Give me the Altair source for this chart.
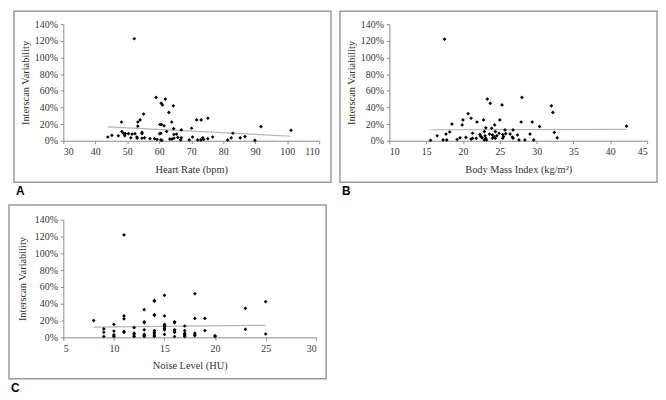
import altair as alt
import pandas as pd

# ---------------- data ----------------
# Panel A: Heart rate (bpm) vs interscan variability (%)
hr_x = [52.2, 59.0, 61.9, 60.6, 61.0, 64.4, 55.1, 63.0, 54.0, 53.3, 48.2, 71.7, 73.1, 75.2,
        63.9, 53.3, 60.2, 60.7, 61.5, 70.1, 64.5, 66.9, 62.3, 48.3, 48.8, 49.4, 50.4, 51.5,
        52.4, 54.6, 54.6, 60.1, 60.5, 64.6, 65.4, 83.0, 91.8, 101.2, 45.2, 47.2, 43.9, 49.2,
        51.1, 53.0, 53.1, 54.6, 55.4, 57.1, 58.5, 59.3, 60.5, 60.8, 63.3, 64.0, 64.6, 65.8,
        66.9, 66.7, 69.4, 70.4, 72.0, 73.0, 73.9, 75.2, 76.7, 81.4, 82.5, 85.3, 86.8, 89.9, 73.6]
hr_y = [122.5, 52, 50, 45, 43, 42, 32, 34, 25, 22.5, 22.5, 25, 25, 27,
        22.5, 17.5, 19.5, 19.5, 18, 15, 14.5, 13, 11, 11, 9, 8.5, 8.5, 8,
        8.5, 10, 8.5, 8.5, 9, 7.5, 8, 9, 17, 12.5, 6.5, 6, 4.5, 6,
        3.5, 4.5, 3, 3, 3.5, 2.5, 2.5, 1.5, 1, 0.5, 2, 2, 3, 4,
        3.5, 1, 1, 4.5, 1, 1, 1.5, 2.5, 4.5, 1, 3.5, 3.5, 5, 0.5, 3.5]
hr_trend_x = [43.9, 101.2]
hr_trend_y = [16.7, 5.4]
hr_ticks = [30, 40, 50, 60, 70, 80, 90, 100, 110]

# Panel B: Body mass index vs interscan variability (%)
bmi_x = [17.5, 28.0, 23.3, 23.7, 25.3, 32.0, 32.2, 20.7, 21.1, 20.0, 22.8, 25.0, 21.9, 27.9,
         29.4, 18.5, 19.9, 24.3, 30.4, 42.2, 23.1, 23.9, 25.7, 26.8, 18.2, 22.9, 24.4, 32.4,
         17.7, 21.3, 22.3, 23.6, 24.0, 24.9, 25.4, 25.8, 26.4, 27.4, 29.1, 16.5, 22.4, 23.0,
         24.2, 24.6, 25.5, 26.7, 20.4, 19.6, 21.3, 21.8, 22.6, 23.1, 24.0, 24.4, 25.4, 26.8,
         32.8, 19.2, 21.1, 22.9, 23.2, 15.6, 17.3, 17.8, 27.6, 28.4, 29.6]
bmi_y = [122, 52, 50, 45, 43, 42, 34, 32.5, 27, 25, 25, 25, 22.5, 22.5,
         22.5, 20, 19, 19, 17, 17.5, 15.5, 15, 13, 13, 10.5, 11, 11, 10,
         8, 9, 7.5, 8, 7, 9, 7.5, 8.5, 8, 7, 8, 6, 5.5, 6,
         5, 6, 5, 4.5, 4, 3.5, 3, 3, 3.5, 3, 3, 3, 3, 3,
         3.5, 1.5, 2, 1, 1, 0.5, 1, 1, 1, 1, 1]
bmi_trend_x = [15.6, 42.2]
bmi_trend_y = [13.2, 13.6]
bmi_ticks = [10, 15, 20, 25, 30, 35, 40, 45]

# Panel C: Noise level (HU) vs interscan variability (%)
noise_x = [8, 9, 9, 9, 10, 10, 10, 10, 10, 11, 11, 11, 11, 11, 12, 12, 12, 12, 12,
           13, 13, 13, 13, 13, 13, 13, 14, 14, 14, 14, 14, 14, 14, 14, 14,
           15, 15, 15, 15, 15, 15, 15, 15, 16, 16, 16, 16, 16, 16,
           17, 17, 17, 17, 17, 17, 18, 18, 18, 18, 18, 19, 19, 20, 20, 23, 23, 25, 25]
noise_y = [20, 10, 6, 1, 15.5, 7.5, 3, 1.5, 1, 122, 25.5, 22, 7, 6, 11.5, 5, 4, 1.5, 1,
           33, 18.5, 17.5, 9, 3.5, 2, 1, 44, 43, 27, 26, 8, 6, 4, 2, 1,
           50, 25.5, 15.5, 14, 12.5, 10.5, 9, 3.5, 18.5, 17.5, 9, 7.5, 6, 1,
           13.5, 8, 5, 3.5, 2, 1, 52, 22.5, 5, 3.5, 2, 22.5, 8, 2, 1, 34.5, 9.5, 42.5, 4]
noise_trend_x = [8, 25]
noise_trend_y = [12.2, 14.3]
noise_ticks = [5, 10, 15, 20, 25, 30]

y_ticks = [0, 0.2, 0.4, 0.6, 0.8, 1.0, 1.2, 1.4]

SERIF = "Liberation Serif"
AXC = "#8a8a8a"


def panel(xs, ys, tx, ty, xticks, xtitle, letter, w, h, left, right, top, bottom, ytp):
    df = pd.DataFrame({"x": xs, "y": [v / 100 for v in ys]})
    tdf = pd.DataFrame({"x": tx, "y": [v / 100 for v in ty]})
    xenc = alt.X("x:Q",
                 scale=alt.Scale(domain=[xticks[0], xticks[-1]], nice=False, zero=False),
                 axis=alt.Axis(values=xticks, title=xtitle, format="d", titlePadding=8))
    yenc = alt.Y("y:Q",
                 scale=alt.Scale(domain=[0, 1.4], nice=False),
                 axis=alt.Axis(values=y_ticks, format=".0%", title="Interscan Variability",
                               titlePadding=ytp))
    pts = alt.Chart(df).mark_point(shape="diamond", filled=True, size=14, color="black",
                                   opacity=1).encode(x=xenc, y=yenc)
    line = alt.Chart(tdf).mark_line(color="#b5b5b5", strokeWidth=1.2).encode(x=xenc, y=yenc)
    frame = alt.Chart(alt.Data(values=[{"a": 1}])).mark_rect(
        filled=False, stroke="#9a9a9a", strokeWidth=1.5).encode(
        x=alt.value(-left), x2=alt.value(w + right),
        y=alt.value(-top), y2=alt.value(h + bottom))
    lab = alt.Chart(alt.Data(values=[{"t": letter}])).mark_text(
        font="Liberation Sans", fontWeight="bold", fontSize=12, align="left",
        baseline="alphabetic", color="black").encode(
        x=alt.value(-left + 2), y=alt.value(h + bottom + 13), text="t:N")
    return alt.layer(frame, line, pts, lab).properties(width=w, height=h)


pa = panel(hr_x, hr_y, hr_trend_x, hr_trend_y, hr_ticks, "Heart Rate (bpm)", "A",
           259, 118, 50, 12, 13, 42, 4)
pb = panel(bmi_x, bmi_y, bmi_trend_x, bmi_trend_y, bmi_ticks, "Body Mass Index (kg/m²)", "B",
           261, 118, 50, 10, 13, 42, 4)
pc = panel(noise_x, noise_y, noise_trend_x, noise_trend_y, noise_ticks, "Noise Level (HU)", "C",
           256, 119, 55, 10, 15, 42, 7)

chart = alt.vconcat(alt.hconcat(pa, pb, spacing=7), pc, spacing=7).properties(
    padding=0
).configure_view(stroke=None).configure_axis(
    grid=False, domainColor=AXC, tickColor=AXC, tickSize=3, domainWidth=1,
    labelFont=SERIF, labelFontSize=10, labelColor="#333333", labelPadding=3,
    titleFont=SERIF, titleFontSize=10.5, titleFontWeight="normal", titleColor="#333333"
)

chart.save("out.html", embed_options={"renderer": "svg", "actions": False})
